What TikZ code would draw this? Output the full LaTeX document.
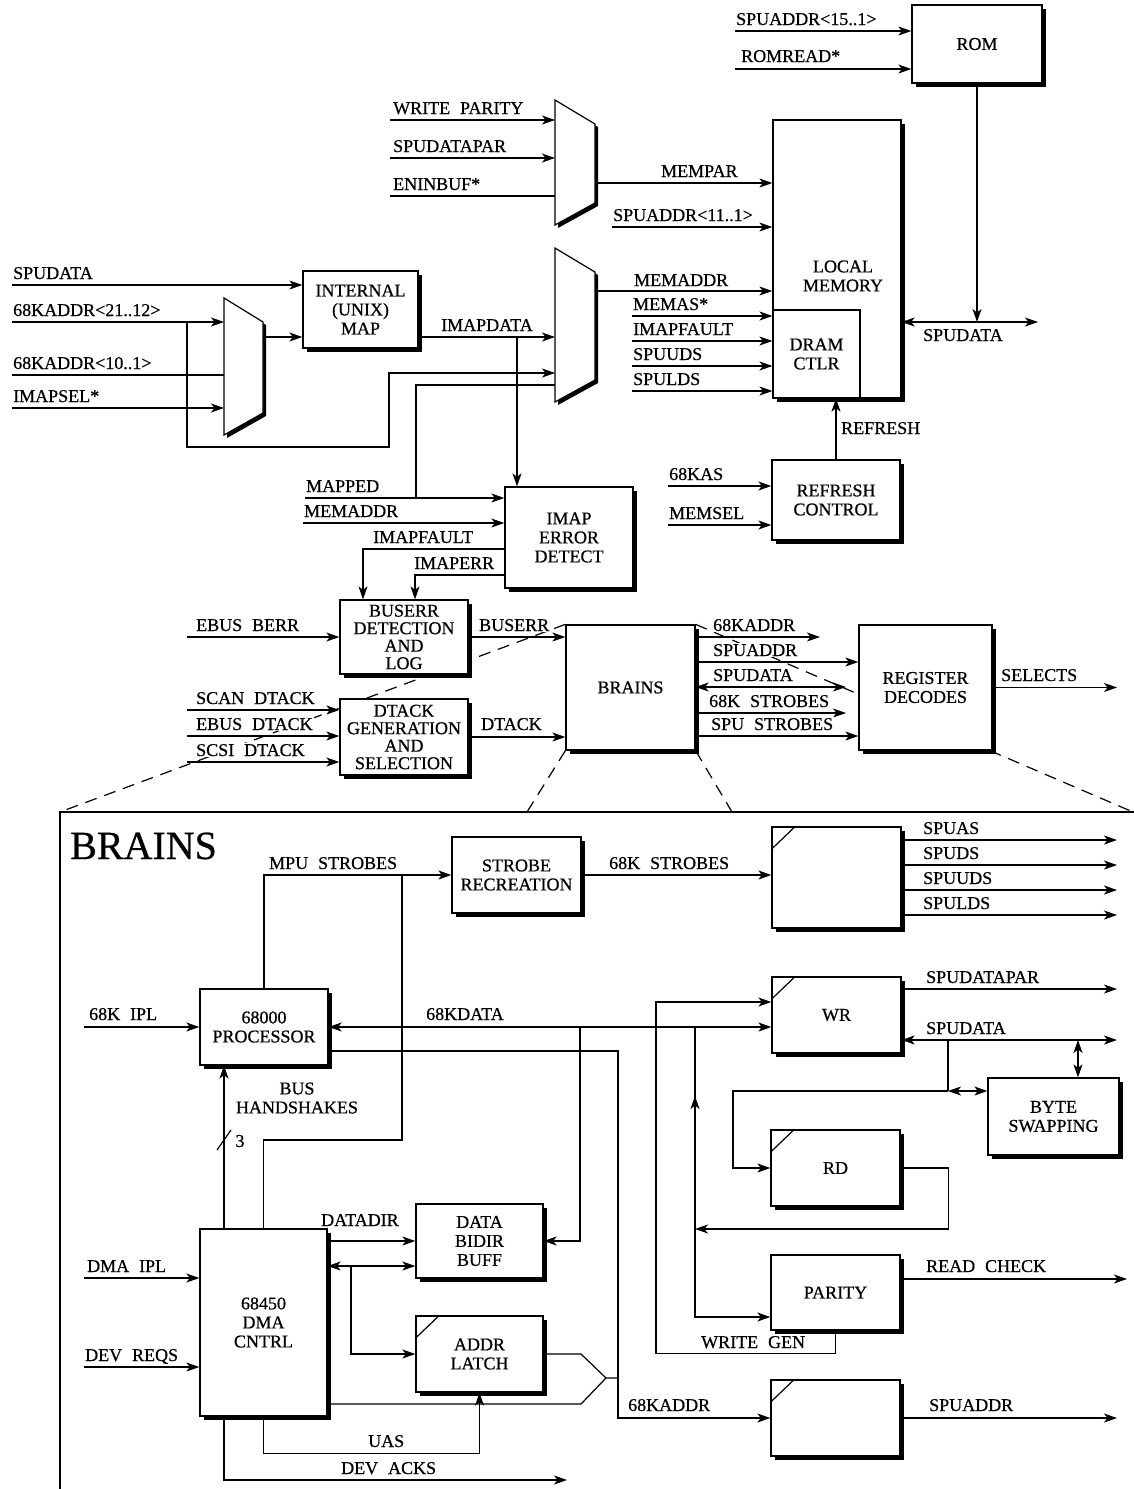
\documentclass[tikz,border=0pt]{standalone}
\usepackage{fontspec}
\setmainfont{Liberation Serif}[FakeBold=0.6]
\usetikzlibrary{arrows.meta,positioning,calc,shadows,backgrounds}

% wide gap between words of a signal name
\newcommand{\wsp}{\hspace*{0.55em}}
% multiplexer: left x, top y, bottom y, width
\newcommand{\muxdraw}[4]{%
  \fill (#1+3,#2+3) -- (#1+#4+3,#2+27) -- (#1+#4+3,#3-19) -- (#1+3,#3+3) -- cycle;
  \draw[fill=white,line width=1.2pt] (#1,#2) -- (#1+#4,#2+24) -- (#1+#4,#3-22) -- (#1,#3) -- cycle;}

\begin{document}
\begin{tikzpicture}[
  x=1pt, y=-1pt,
  every node/.style={font=\fontsize{18}{19}\selectfont},
  sig/.style={line width=1.2pt},
  arr/.style={sig, -{Stealth[length=13pt,width=9pt,inset=3.5pt]}},
  barr/.style={sig, {Stealth[length=13pt,width=9pt,inset=3.5pt]}-{Stealth[length=13pt,width=9pt,inset=3.5pt]}},
  blk/.style={draw, fill=white, line width=1.3pt, align=center, inner sep=1pt,
    drop shadow={shadow xshift=3.5pt, shadow yshift=-3.5pt, fill=black, opacity=1}},
  lab/.style={anchor=base west, inner sep=1pt, fill=white},
  tight/.style={font=\fontsize{18}{17.5}\selectfont, inner sep=0pt},
  zoomln/.style={line width=1.2pt, dash pattern=on 12pt off 8pt}
]
\useasboundingbox (0,0) rectangle (1133,1489);

% ---------------- memory side ----------------
\node[blk, minimum width=130pt, minimum height=78pt] (rom) at (977,44) {ROM};
\node[blk, minimum width=128pt, minimum height=278pt] (locmem) at (837,259) {};
\node[align=center] (memtxt) at (843,276) {LOCAL\\MEMORY};
\node[draw, fill=white, line width=1.1pt, minimum width=87pt, minimum height=88pt, align=center] (dram) at (816.5,354) {DRAM\\CTLR};
\node[blk, minimum width=128pt, minimum height=80pt] (refresh) at (836,500) {REFRESH\\CONTROL};

\node[blk, minimum width=115pt, minimum height=77pt] (map) at (360.5,309.5) {INTERNAL\\(UNIX)\\MAP};
\node[blk, minimum width=128pt, minimum height=101pt] (imaperr) at (569,537.5) {IMAP\\ERROR\\DETECT};
\node[blk, tight, minimum width=128pt, minimum height=74pt] (buserr) at (404,637) {BUSERR\\DETECTION\\AND\\LOG};
\node[blk, tight, minimum width=128pt, minimum height=76pt] (dtackgen) at (404,737) {DTACK\\GENERATION\\AND\\SELECTION};
\node[blk, minimum width=129pt, minimum height=125pt] (brains) at (630.5,687.5) {BRAINS};
\node[blk, minimum width=133pt, minimum height=125pt] (regdec) at (925.5,687.5) {REGISTER\\DECODES};

% ROM
\draw[arr] (735,31) -- (735,31 -| rom.west);
\node[lab] at (735,25) {SPUADDR<15..1>};
\draw[arr] (735,69) -- (735,69 -| rom.west);
\node[lab] at (740,62) {ROMREAD*};
\coordinate (sdj) at (977,322);
\draw[arr] (rom.south) -- (sdj);
\draw[barr] (sdj -| locmem.east) -- (1038,322);
\node[lab] at (922,341) {SPUDATA};

% parity mux
\muxdraw{555}{100}{225}{40}
\draw[arr] (390,120) -- (555,120);
\node[lab] at (392,114) {WRITE\wsp PARITY};
\draw[arr] (390,158) -- (555,158);
\node[lab] at (392,152) {SPUDATAPAR};
\draw[sig] (390,196) -- (555,196);
\node[lab] at (392,190) {ENINBUF*};
\draw[arr] (595,183) -- (595,183 -| locmem.west);
\node[lab] at (660,177) {MEMPAR};
\draw[arr] (612,227) -- (612,227 -| locmem.west);
\node[lab] at (612,221) {SPUADDR<11..1>};

% address mux
\muxdraw{555}{248}{402}{40}
\draw[arr] (595,291) -- (595,291 -| locmem.west);
\node[lab] at (633,286) {MEMADDR};
\foreach \y/\s in {316/MEMAS*,341/IMAPFAULT,366/SPUUDS,391/SPULDS} {
  \draw[arr] (632,\y) -- (632,\y -| dram.west);
  \node[lab] at (632,\y-6) {\s};
}

% refresh
\draw[arr] (refresh.north) -- (refresh.north |- locmem.south);
\node[lab] at (840,434) {REFRESH};
\draw[arr] (668,486) -- (668,486 -| refresh.west);
\node[lab] at (668,480) {68KAS};
\draw[arr] (668,525) -- (668,525 -| refresh.west);
\node[lab] at (668,519) {MEMSEL};

% ---------------- map side ----------------
\muxdraw{224}{298}{435}{39}
\draw[arr] (12,285) -- (12,285 -| map.west);
\node[lab] at (12,279) {SPUDATA};
\draw[arr] (12,322) -- (224,322);
\node[lab] at (12,316) {68KADDR<21..12>};
\draw[sig] (12,375) -- (224,375);
\node[lab] at (12,369) {68KADDR<10..1>};
\draw[arr] (12,408) -- (224,408);
\node[lab] at (12,402) {IMAPSEL*};
\draw[arr] (263,337) -- (263,337 -| map.west);
\draw[arr] (187,322) -- (187,447) -- (389,447) -- (389,373) -- (555,373);
\draw[arr] (map.east |- 0,337) -- (555,337);
\node[lab] at (440,331) {IMAPDATA};
\draw[arr] (517,337) -- (517,337 |- imaperr.north);

\draw[arr] (305,498) -- (305,498 -| imaperr.west);
\node[lab] at (305,492) {MAPPED};
\draw[sig] (416,498) -- (416,385) -- (555,385);
\draw[arr] (303,523) -- (303,523 -| imaperr.west);
\node[lab] at (303,517) {MEMADDR};
\draw[arr] (imaperr.west |- 0,549) -| (363,549 |- buserr.north);
\node[lab] at (372,543) {IMAPFAULT};
\draw[arr] (imaperr.west |- 0,575) -| (415,575 |- buserr.north);
\node[lab] at (413,569) {IMAPERR};

% bus errors and dtack
\draw[arr] (187,637) -- (buserr.west);
\node[lab] at (195,631) {EBUS\wsp BERR};
\draw[arr] (buserr.east) -- (buserr.east -| brains.west);
\node[lab] at (478,631) {BUSERR};
\foreach \y/\s in {710/SCAN,736/EBUS,762/SCSI} {
  \draw[arr] (187,\y) -- (187,\y -| dtackgen.west);
  \node[lab] at (195,\y-6) {\s\wsp DTACK};
}
\draw[arr] (dtackgen.east) -- (dtackgen.east -| brains.west);
\node[lab] at (480,730) {DTACK};

% brains outputs
\draw[arr] (brains.east |- 0,637) -- (820,637);
\node[lab] at (712,631) {68KADDR};
\draw[arr] (brains.east |- 0,662) -- (regdec.west |- 0,662);
\node[lab] at (712,656) {SPUADDR};
\draw[barr] (brains.east |- 0,687) -- (846,687);
\node[lab] at (712,681) {SPUDATA};
\draw[arr] (brains.east |- 0,713) -- (846,713);
\node[lab] at (708,707) {68K\wsp STROBES};
\draw[arr] (brains.east |- 0,736) -- (regdec.west |- 0,736);
\node[lab] at (710,730) {SPU\wsp STROBES};
\draw[arr] (regdec.east) -- (1117,687.5);
\node[lab] at (1000,681) {SELECTS};

% zoom lines
\begin{scope}[on background layer]
  \draw[zoomln] (brains.north west) -- (60,812);
  \draw[zoomln] (brains.north east) -- (1140,815);
  \draw[zoomln] (brains.south west) -- (527,812);
  \draw[zoomln] (brains.south east) -- (732,812);
\end{scope}

% ---------------- inside BRAINS ----------------
\draw[line width=1.2pt] (60,1495) -- (60,812) -- (1140,812);
\node[anchor=base west, inner sep=0pt, font=\fontsize{40}{40}\selectfont] (title) at (70,859) {BRAINS};

\node[blk, minimum width=129pt, minimum height=76pt] (strobe) at (516.5,875) {STROBE\\RECREATION};
\node[blk, minimum width=129pt, minimum height=101pt] (strlatch) at (836.5,877.5) {};
\node[blk, minimum width=128pt, minimum height=76pt] (proc) at (264,1027) {68000\\PROCESSOR};
\node[blk, minimum width=129pt, minimum height=76pt] (wr) at (836.5,1015) {WR};
\node[blk, minimum width=131pt, minimum height=77pt] (swap) at (1053.5,1116.5) {BYTE\\SWAPPING};
\node[blk, minimum width=129pt, minimum height=76pt] (rd) at (835.5,1168) {RD};
\node[blk, minimum width=127pt, minimum height=187pt] (dma) at (263.5,1322.5) {68450\\DMA\\CNTRL};
\node[blk, minimum width=127pt, minimum height=74pt] (bidir) at (479.5,1241) {DATA\\BIDIR\\BUFF};
\node[blk, minimum width=127pt, minimum height=76pt] (addrlatch) at (479.5,1354) {ADDR\\LATCH};
\node[blk, minimum width=129pt, minimum height=75pt] (parity) at (835.5,1292.5) {PARITY};
\node[blk, minimum width=129pt, minimum height=76pt] (spuadlatch) at (835.5,1418) {};

% clocked registers
\foreach \b in {strlatch,wr,rd,addrlatch,spuadlatch}
  \draw[sig] ([yshift=-23pt]\b.north west) -- ([xshift=24pt]\b.north west);

% strobes
\draw[arr] (proc.north) |- (strobe.west);
\node[lab] at (268,869) {MPU\wsp STROBES};
\draw[sig] (402,875) -- (402,1140) -| (dma.north);
\draw[arr] (strobe.east) -- (strobe.east -| strlatch.west);
\node[lab] at (608,869) {68K\wsp STROBES};
\foreach \y/\s in {840/SPUAS,865/SPUDS,890/SPUUDS,915/SPULDS} {
  \draw[arr] (strlatch.east |- 0,\y) -- (1117,\y);
  \node[lab] at (922,\y-6) {\s};
}

% processor data and address
\draw[arr] (84,1027) -- (proc.west);
\node[lab] at (88,1020) {68K\wsp IPL};
\draw[barr] (proc.east) -- (proc.east -| wr.west);
\node[lab] at (425,1020) {68KDATA};
\draw[arr] (proc.east |- 0,1051) -| (618,1418) -- (spuadlatch.west);
\node[lab] at (627,1411) {68KADDR};
\draw[arr] (580,1027) |- (bidir.east);
\draw[arr] (695,1027) |- (695,1317 -| parity.west);
\draw[arr] (695,1112) -- (695,1096);
\draw[arr] (rd.east) -- ++(48,0) |- (695,1229);
\draw[arr] (parity.south) -- ++(0,23) -| (656,1002) -- (656,1002 -| wr.west);
\node[lab] at (700,1348) {WRITE\wsp GEN};

% SPU data side
\draw[arr] (wr.east |- 0,989) -- (1117,989);
\node[lab] at (925,983) {SPUDATAPAR};
\draw[barr] (wr.east |- 0,1040) -- (1117,1040);
\node[lab] at (925,1034) {SPUDATA};
\draw[sig] (948,1040) -- (948,1091);
\draw[arr] (948,1091) -- (733,1091) |- (rd.west);
\draw[barr] (948,1091) -- (948,1091 -| swap.west);
\draw[barr] (1078,1040) -- (1078,1040 |- swap.north);
\draw[arr] (parity.east |- 0,1279) -- (1127,1279);
\node[lab] at (925,1272) {READ\wsp CHECK};
\draw[arr] (spuadlatch.east) -- (1117,1418);
\node[lab] at (928,1411) {SPUADDR};

% DMA controller
\draw[arr] (dma.north -| 224,0) -- (224,0 |- proc.south);
\node[align=center] (bhs) at (297,1098) {BUS\\HANDSHAKES};
\draw[sig] (217,1150) -- (231,1130);
\node (nbus) at (240,1141) {3};
\draw[arr] (84,1278) -- (84,1278 -| dma.west);
\node[lab] at (86,1272) {DMA\wsp IPL};
\draw[arr] (84,1367) -- (84,1367 -| dma.west);
\node[lab] at (84,1361) {DEV\wsp REQS};
\draw[arr] (dma.east |- bidir.west) -- (bidir.west);
\node[lab] at (320,1226) {DATADIR};
\draw[barr] (dma.east |- 0,1266) -- (bidir.west |- 0,1266);
\draw[arr] (351,1266) |- (addrlatch.west);
\draw[sig] (addrlatch.east) -- (581,1354) -- (606,1378) -- (618,1378);
\draw[sig] (dma.east |- 0,1404) -- (581,1404) -- (606,1378);
\draw[arr] (dma.south) -- ++(0,37) -| (addrlatch.south);
\node[lab] at (367,1447) {UAS};
\draw[arr] (dma.south -| 224,0) -- (224,1480) -- (567,1480);
\node[lab] at (340,1474) {DEV\wsp ACKS};

\end{tikzpicture}
\end{document}
